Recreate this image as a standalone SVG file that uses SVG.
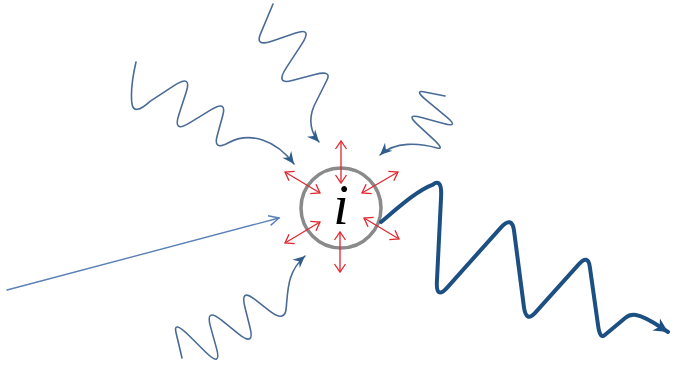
<svg xmlns="http://www.w3.org/2000/svg" width="675" height="374" viewBox="0 0 675 374">
  <style>
    .thin { fill: none; stroke: #4a6b96; stroke-width: 1.6; stroke-linecap: round; stroke-linejoin: round; }
    .straight { fill: none; stroke: #5a80b8; stroke-width: 1.4; stroke-linecap: round; }
    .thick { fill: none; stroke: #1c4f82; stroke-width: 4; stroke-linecap: round; stroke-linejoin: round; }
    .red { fill: none; stroke: #e2262e; stroke-width: 1.3; }
    .ring { fill: none; stroke: #8a8a8a; stroke-width: 3.5; }
    .label { font-family: "Liberation Serif", "Times New Roman", serif; font-style: italic; font-size: 56px; fill: #000; }
  </style>
  <defs>
    <marker id="redHead" viewBox="-10 -7 12 14" refX="0" refY="0" markerWidth="12" markerHeight="14" markerUnits="userSpaceOnUse" orient="auto-start-reverse">
      <path d="M-8,-5.5 L0,0 L-8,5.5" fill="none" stroke="#e2262e" stroke-width="1.3"/>
    </marker>
    <marker id="blueHead" viewBox="-14 -7 16 14" refX="0" refY="0" markerWidth="16" markerHeight="14" markerUnits="userSpaceOnUse" orient="auto">
      <path d="M-12,-5.5 L0,0 L-12,5.5 L-8,0 Z" fill="#2f5d8c"/>
    </marker>
    <marker id="openHead" viewBox="-12 -7 14 14" refX="0" refY="0" markerWidth="14" markerHeight="14" markerUnits="userSpaceOnUse" orient="auto">
      <path d="M-10,-5 L0,0 L-10,5" fill="none" stroke="#5a80b8" stroke-width="1.4"/>
    </marker>
    <marker id="thickHead" viewBox="-16 -9 18 18" refX="0" refY="0" markerWidth="18" markerHeight="18" markerUnits="userSpaceOnUse" orient="auto">
      <path d="M-14,-7 L0,0 L-14,7 L-10,0 Z" fill="#1c4f82"/>
    </marker>
  </defs>

  <g id="particle">
    <circle class="ring" cx="341" cy="208" r="40"/>
    <text class="label" x="341" y="224" text-anchor="middle">i</text>
  </g>

  <g id="connectors">
    <path id="wave-topleft" class="thin" marker-end="url(#blueHead)" d="M136,62 C133,75 130,90 132,104 Q134,116 150,101.3 L174,85.7 Q192,74 186.3,91.7 L178.7,115.3 Q173,133 189.2,123.1 L210.8,109.9 Q227,100 222.8,115.3 L217.2,135.7 Q213,151 228,143 C250,131 276,140 294,164"/>
    <path id="wave-top" class="thin" marker-end="url(#blueHead)" d="M273,4 L260.4,34.1 Q255,47 272.4,41 L295.6,33 Q313,27 301.6,44.4 L286.4,67.6 Q275,85 292.1,80.5 L314.9,74.5 Q332,70 327,80 L314,106 C308,120 311,133 319,142"/>
    <path id="wave-right" class="thin" marker-end="url(#blueHead)" d="M445,96 L423.3,91.8 Q414,90 427.8,101.4 L446.2,116.6 Q460,128 443.5,123.5 L421.5,117.5 Q405,113 417,124.1 L433,138.9 Q445,150 437,148 C420,143 395,141 380,155"/>
    <path id="wave-bottomleft" class="thin" marker-end="url(#blueHead)" d="M182,358 L176,332.5 Q173,320 189.2,335.8 L205.8,352.2 Q222,368 216.4,347.9 L210.6,327.1 Q205,307 221.5,320.2 L238.5,333.8 Q255,347 250,327.5 L245,307.5 Q240,288 254.5,299.2 L269.5,310.8 Q284,322 286,310 C288,290 287,272 305,256"/>
    <path id="ray" class="straight" marker-end="url(#openHead)" d="M7,290 L279,218"/>
    <path id="wave-out" class="thick" marker-end="url(#thickHead)" d="M381,222 C400,206 418,190 432.9,184.6 Q442,178 441.1,196.3 L436.9,281.7 Q436,300 447.4,287.3 L500.6,227.8 Q512,215 514.1,231.2 L523.9,306.8 Q526,323 535.3,312.7 L578.7,264.4 Q588,254 589.8,266.8 L598.2,326.3 Q600,339 604.5,335.3 L625.5,317.8 Q630,314 636,315 C647,317 657,325 668,332"/>
  </g>

  <g id="emission">
    <line class="red" x1="341" y1="141" x2="341" y2="183" marker-start="url(#redHead)" marker-end="url(#redHead)"/>
    <line class="red" x1="340" y1="232" x2="340" y2="272" marker-start="url(#redHead)" marker-end="url(#redHead)"/>
    <line class="red" x1="285" y1="172" x2="320" y2="193" marker-start="url(#redHead)" marker-end="url(#redHead)"/>
    <line class="red" x1="398" y1="172" x2="362" y2="193" marker-start="url(#redHead)" marker-end="url(#redHead)"/>
    <line class="red" x1="285" y1="243" x2="320" y2="222" marker-start="url(#redHead)" marker-end="url(#redHead)"/>
    <line class="red" x1="399" y1="239" x2="364" y2="218" marker-start="url(#redHead)" marker-end="url(#redHead)"/>
  </g>
</svg>
